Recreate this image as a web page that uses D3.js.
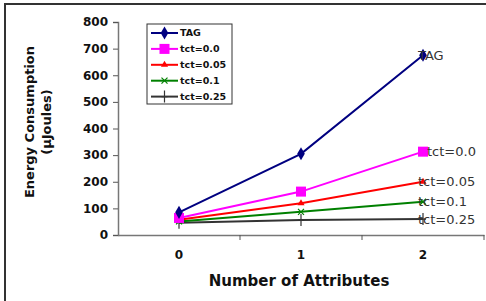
<!DOCTYPE html>
<html>
<head>
<meta charset="utf-8">
<script src="https://d3js.org/d3.v7.min.js"></script>
<style>
body { margin: 0; background: #fff; }
svg text { font-family: "DejaVu Sans", Arial, sans-serif; }
</style>
</head>
<body>
<svg id="chart" width="486" height="301"></svg>
<script>
// chart values
const categories = ['0', '1', '2'];
const seriesNames = ['TAG', 'tct=0.0', 'tct=0.05', 'tct=0.1', 'tct=0.25'];
const tagValues = [85, 305, 675];
const tct00Values = [64, 163, 313];
const tct005Values = [57, 119, 200];
const tct01Values = [51, 87, 125];
const tct025Values = [46, 56, 60];
const yTicks = [0, 100, 200, 300, 400, 500, 600, 700, 800];

const colors = ['#000080', '#ff00ff', '#ff0000', '#008000', '#333333'];
const markers = ['diamond', 'square', 'triangle', 'cross', 'plus'];
const seriesValues = [tagValues, tct00Values, tct005Values, tct01Values, tct025Values];
const labelDx = [-5, 4, -5, -5, -5];
const FONT = '"DejaVu Sans", Arial, sans-serif';

let series = seriesNames.map((name, i) => ({
	name: name, color: colors[i], marker: markers[i], values: seriesValues[i], dx: labelDx[i]
}));

let svg = d3.select('#chart');

// outer frame (cut by the picture on right / bottom)
svg.append('rect')
	.attr('x', 5).attr('y', 4)
	.attr('width', 500).attr('height', 320)
	.attr('fill', 'none')
	.attr('stroke', '#333').attr('stroke-width', 2);

let plot = { left: 118, right: 484, top: 22, bottom: 235 };

let x = d3.scaleBand()
		.domain(categories)
		.range([plot.left, plot.right]),
	y = d3.scaleLinear()
		.domain([0, 800])
		.range([plot.bottom, plot.top]);

// y axis
let yAxis = svg.append('g')
	.attr('transform', 'translate(' + plot.left + ',0)')
	.call(d3.axisLeft(y).tickValues(yTicks).tickSize(5).tickPadding(5));
yAxis.select('.domain').attr('stroke', '#777').attr('stroke-width', 1.5);
yAxis.selectAll('.tick line').attr('stroke', '#555');
yAxis.selectAll('text')
	.attr('font-size', 12).attr('font-weight', 'bold').attr('fill', '#111')
	.style('font-family', FONT);

// x axis
let xAxis = svg.append('g')
	.attr('transform', 'translate(0,' + plot.bottom + ')')
	.call(d3.axisBottom(x).tickSize(0).tickPadding(15));
xAxis.select('.domain').attr('stroke', '#777').attr('stroke-width', 1.5);
xAxis.selectAll('text')
	.attr('font-size', 12).attr('font-weight', 'bold').attr('fill', '#111')
	.style('font-family', FONT);
// boundary ticks between categories
svg.append('g').selectAll('line')
	.data(categories.slice(1).concat(['end']))
	.enter()
	.append('line')
	.attr('x1', d => d === 'end' ? plot.right : x(d))
	.attr('x2', d => d === 'end' ? plot.right : x(d))
	.attr('y1', plot.bottom).attr('y2', plot.bottom + 5)
	.attr('stroke', '#555');

// axis titles
svg.append('text')
	.attr('x', 299).attr('y', 286)
	.attr('text-anchor', 'middle')
	.attr('font-size', 15).attr('font-weight', 'bold').attr('fill', '#111')
	.text('Number of Attributes');

let yTitle = svg.append('g').attr('transform', 'translate(34,122) rotate(-90)');
yTitle.append('text')
	.attr('text-anchor', 'middle')
	.attr('font-size', 13).attr('font-weight', 'bold').attr('fill', '#111')
	.text('Energy Consumption');
yTitle.append('text')
	.attr('y', 17)
	.attr('text-anchor', 'middle')
	.attr('font-size', 13).attr('font-weight', 'bold').attr('fill', '#111')
	.text('(\u00b5Joules)');

function drawMarker(g, type, color, cx, cy) {
	if (type === 'diamond') {
		g.append('path').attr('d', d3.symbol().type(d3.symbolDiamond).size(50)())
			.attr('transform', 'translate(' + cx + ',' + cy + ')').attr('fill', color);
	} else if (type === 'square') {
		g.append('rect').attr('x', cx - 5).attr('y', cy - 5).attr('width', 10).attr('height', 10).attr('fill', color);
	} else if (type === 'triangle') {
		g.append('path').attr('d', d3.symbol().type(d3.symbolTriangle).size(22)())
			.attr('transform', 'translate(' + cx + ',' + cy + ')').attr('fill', color);
	} else if (type === 'cross') {
		g.append('path').attr('d', 'M' + (cx - 3) + ',' + (cy - 3) + 'L' + (cx + 3) + ',' + (cy + 3) +
			'M' + (cx - 3) + ',' + (cy + 3) + 'L' + (cx + 3) + ',' + (cy - 3))
			.attr('stroke', color).attr('stroke-width', 1.2);
	} else {
		g.append('path').attr('d', 'M' + cx + ',' + (cy - 6) + 'L' + cx + ',' + (cy + 6) +
			'M' + (cx - 3) + ',' + cy + 'L' + (cx + 3) + ',' + cy)
			.attr('stroke', color).attr('stroke-width', 1.2);
	}
}

let line = d3.line()
	.x((d, i) => x(categories[i]) + x.bandwidth() / 2)
	.y(d => y(d));

// draw back to front so TAG is on top
series.slice().reverse().forEach(s => {
	let g = svg.append('g');
	g.append('path')
		.attr('d', line(s.values))
		.attr('fill', 'none')
		.attr('stroke', s.color)
		.attr('stroke-width', 2);
	s.values.forEach((v, i) => drawMarker(g, s.marker, s.color, x(categories[i]) + x.bandwidth() / 2, y(v)));
});

// end-of-line labels
series.forEach(s => {
	let last = s.values.length - 1;
	svg.append('text')
		.attr('x', x(categories[last]) + x.bandwidth() / 2 + s.dx)
		.attr('y', y(s.values[last]))
		.attr('dy', '0.35em')
		.attr('font-size', 13).attr('fill', '#333')
		.text(s.name);
});

// legend
let legend = svg.append('g');
legend.append('rect')
	.attr('x', 147).attr('y', 24)
	.attr('width', 85).attr('height', 80)
	.attr('fill', '#fff').attr('stroke', '#333').attr('stroke-width', 1);
series.forEach((s, i) => {
	let ly = 33 + i * 15.9;
	let lg = legend.append('g');
	lg.append('line')
		.attr('x1', 151).attr('x2', 178)
		.attr('y1', ly).attr('y2', ly)
		.attr('stroke', s.color).attr('stroke-width', 2);
	drawMarker(lg, s.marker, s.color, 164.5, ly);
	lg.append('text')
		.attr('x', 180).attr('y', ly).attr('dy', '0.35em')
		.attr('font-size', 9.5).attr('font-weight', 'bold').attr('fill', '#111')
		.text(s.name);
});
</script>
</body>
</html>
